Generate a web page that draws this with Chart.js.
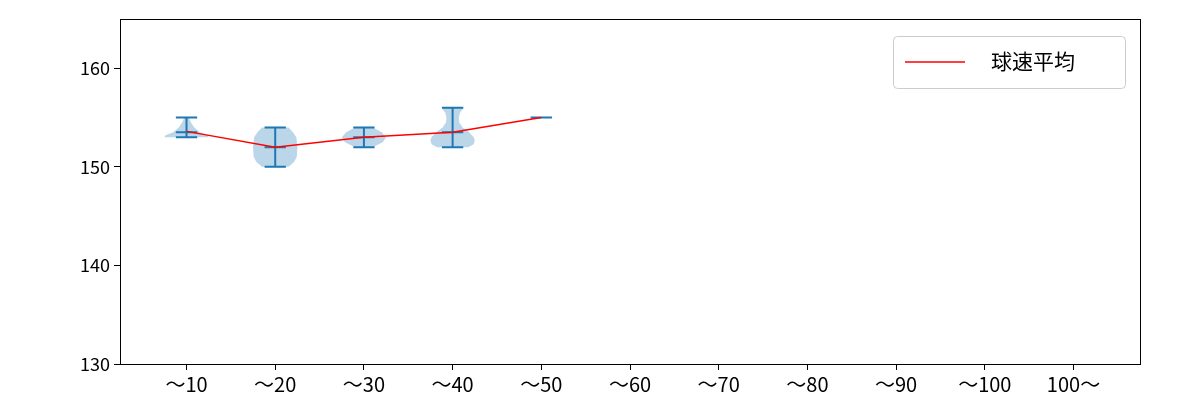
<!DOCTYPE html>
<html><head><meta charset="utf-8">
<script src="https://cdn.jsdelivr.net/npm/chart.js@4"></script>
<style>html,body{margin:0;padding:0;background:#fff}#w{width:1200px;height:400px}</style>
</head><body><div id="w"><canvas id="c" width="1200" height="400"></canvas></div>
<script>
const categories = ['～10','～20','～30','～40','～50','～60','～70','～80','～90','～100','100～'];
const meanSpeed = [153.6, 152.0, 153.0, 153.5, 155.0, null, null, null, null, null, null];
const maxSpeed = [155, 154, 154, 156, 155];
const minSpeed = [153, 150, 152, 152, 155];
const medianSpeed = [153.5, 152, 153, 153.5, 155];
// violin density profiles: [speed, relative width]
const violinProfiles = [
  [[153,1.0],[153.2,0.95],[153.5,0.6],[154,0.35],[154.5,0.2],[155,0.1]],
  [[150,0.6],[150.5,0.85],[151,0.97],[152,1.0],[153,0.95],[153.5,0.8],[154,0.6]],
  [[152,0.4],[152.5,0.85],[153,1.0],[153.5,0.8],[154,0.4]],
  [[152,0.7],[152.3,0.95],[152.7,1.0],[153,0.95],[153.5,0.75],[154,0.45],[154.5,0.3],[155,0.28],[155.5,0.33],[156,0.5]],
  []
];
const FONT = "'Noto Sans CJK JP', 'DejaVu Sans', sans-serif";

const violinPlugin = {
  id: 'violins',
  beforeDatasetsDraw(chart) {
    const {ctx, scales:{x, y}} = chart;
    const unit = x.getPixelForValue(1) - x.getPixelForValue(0);
    ctx.save();
    violinProfiles.forEach((prof, i) => {
      if (!prof.length) return;
      const cx = x.getPixelForValue(i);
      ctx.beginPath();
      prof.forEach(([v, w], k) => {
        const px = cx + w * 0.25 * unit, py = y.getPixelForValue(v);
        k ? ctx.lineTo(px, py) : ctx.moveTo(px, py);
      });
      for (let k = prof.length - 1; k >= 0; k--) {
        const [v, w] = prof[k];
        ctx.lineTo(cx - w * 0.25 * unit, y.getPixelForValue(v));
      }
      ctx.closePath();
      ctx.fillStyle = 'rgba(31,119,180,0.3)';
      ctx.fill();
    });
    ctx.strokeStyle = '#1f77b4';
    ctx.lineWidth = 2;
    const cap = 0.12 * unit;
    maxSpeed.forEach((mx, i) => {
      const cx = x.getPixelForValue(i);
      const t = y.getPixelForValue(mx), b = y.getPixelForValue(minSpeed[i]), m = y.getPixelForValue(medianSpeed[i]);
      ctx.beginPath();
      ctx.moveTo(cx, t); ctx.lineTo(cx, b);
      ctx.moveTo(cx - cap, t); ctx.lineTo(cx + cap, t);
      ctx.moveTo(cx - cap, b); ctx.lineTo(cx + cap, b);
      ctx.moveTo(cx - cap, m); ctx.lineTo(cx + cap, m);
      ctx.stroke();
    });
    ctx.restore();
  },
  afterDraw(chart) {
    const {ctx, chartArea:a} = chart;
    ctx.save();
    const bx = a.right - 247, by = a.top + 17, bw = 232, bh = 52;
    ctx.fillStyle = 'rgba(255,255,255,0.8)';
    ctx.strokeStyle = '#cccccc'; ctx.lineWidth = 1;
    ctx.beginPath(); ctx.roundRect(bx + 0.5, by + 0.5, bw, bh, 4); ctx.fill(); ctx.stroke();
    ctx.strokeStyle = 'red'; ctx.lineWidth = 1.5;
    ctx.beginPath(); ctx.moveTo(bx + 12, by + 26); ctx.lineTo(bx + 72, by + 26); ctx.stroke();
    ctx.fillStyle = '#000'; ctx.font = '21px ' + FONT; ctx.textBaseline = 'middle';
    ctx.fillText(chart.data.datasets[0].label, bx + 98, by + 25);
    ctx.restore();
  }
};

new Chart(document.getElementById('c'), {
  type: 'line',
  data: { datasets: [{
    label: '球速平均',
    data: meanSpeed.map((v, i) => ({x: i, y: v})),
    borderColor: 'red', borderWidth: 1.5, pointRadius: 0, fill: false, spanGaps: false
  }]},
  options: {
    responsive: false, animation: false,
    layout: { padding: {left: 0, right: 60, top: 19, bottom: 2} },
    plugins: { legend: {display: false}, tooltip: {enabled: false} },
    scales: {
      x: { type: 'linear', min: -0.75, max: 10.75,
        afterBuildTicks: ax => { ax.ticks = categories.map((_, i) => ({value: i})); },
        ticks: { callback: v => categories[v], color: '#000', font: {size: 20, family: FONT}, padding: 2, maxRotation: 0, autoSkip: false },
        grid: { display: true, drawOnChartArea: false, drawTicks: true, tickLength: 6, tickColor: '#000' },
        border: { color: '#000', width: 1 }
      },
      y: { min: 130, max: 165,
        afterBuildTicks: ax => { ax.ticks = [130,140,150,160].map(v => ({value: v})); },
        afterFit: ax => { ax.width = 120; },
        ticks: { color: '#000', font: {size: 18, family: FONT}, padding: 4 },
        grid: { display: true, drawOnChartArea: false, tickLength: 6, tickColor: '#000' },
        border: { color: '#000', width: 1 }
      }
    }
  },
  plugins: [violinPlugin, {
    id: 'frame',
    afterDraw(chart) {
      const {ctx, chartArea:a} = chart;
      ctx.save(); ctx.strokeStyle = '#000'; ctx.lineWidth = 1;
      ctx.strokeRect(a.left + 0.5, a.top + 0.5, a.right - a.left, a.bottom - a.top);
      ctx.restore();
    }
  }]
});
</script></body></html>
